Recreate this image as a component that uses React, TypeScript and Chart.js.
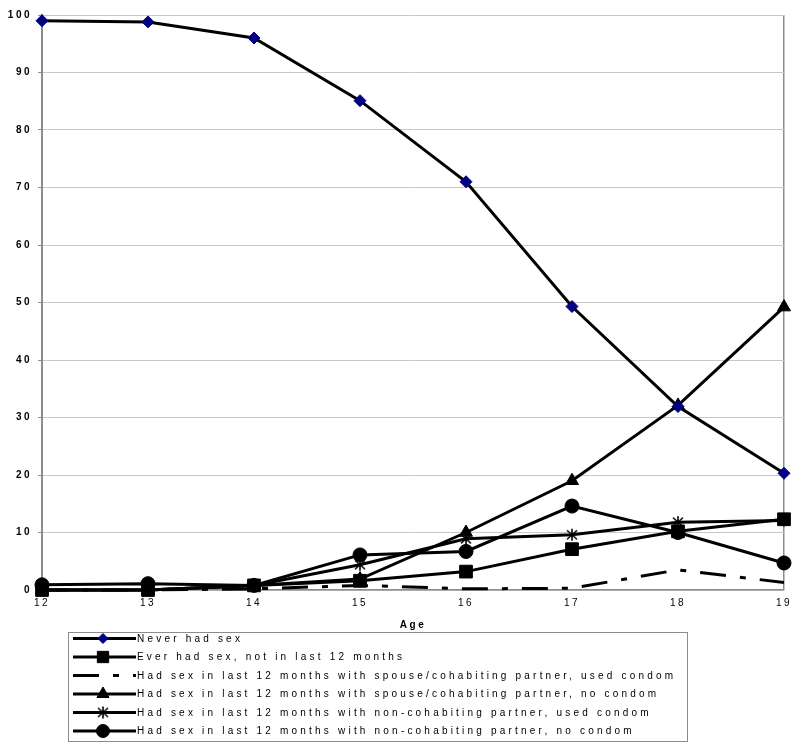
import React, { useEffect, useRef } from 'react';
import { Chart, registerables } from 'chart.js';

Chart.register(...registerables);

const ages = ['12', '13', '14', '15', '16', '17', '18', '19'];
const neverHadSex = [99.0, 98.8, 96.0, 85.1, 71.0, 49.3, 31.9, 20.3];
const everHadSexNotLast12 = [0, 0, 0.8, 1.6, 3.2, 7.1, 10.2, 12.3];
const spouseUsedCondom = [0, 0, 0.2, 0.8, 0.2, 0.3, 3.5, 1.3];
const spouseNoCondom = [0, 0, 0.8, 1.9, 10.0, 19.0, 32.1, 49.2];
const nonCohabUsedCondom = [0, 0, 0.8, 4.4, 8.9, 9.6, 11.8, 12.1];
const nonCohabNoCondom = [0.9, 1.1, 0.8, 6.1, 6.7, 14.6, 10.0, 4.7];
const yTickValues = [0, 10, 20, 30, 40, 50, 60, 70, 80, 90, 100];
const seriesLabels = [
  'Never had sex',
  'Ever had sex, not in last 12 months',
  'Had sex in last 12 months with spouse/cohabiting partner, used condom',
  'Had sex in last 12 months with spouse/cohabiting partner, no condom',
  'Had sex in last 12 months with non-cohabiting partner, used condom',
  'Had sex in last 12 months with non-cohabiting partner, no condom',
];
const xTitle = 'Age';

const FONT = '"Liberation Sans", Arial, sans-serif';
const DASH = [26, 14, 6, 14];

function makeStar(): HTMLCanvasElement {
  const c = document.createElement('canvas');
  c.width = 14;
  c.height = 14;
  const g = c.getContext('2d')!;
  g.strokeStyle = '#000';
  g.lineWidth = 1.6;
  g.beginPath();
  g.moveTo(2, 2.5); g.lineTo(12, 11.5);
  g.moveTo(12, 2.5); g.lineTo(2, 11.5);
  g.moveTo(7, 1); g.lineTo(7, 13);
  g.stroke();
  return c;
}

function drawMarker(ctx: CanvasRenderingContext2D, style: any, r: number, fill: string, x: number, y: number) {
  ctx.save();
  ctx.setLineDash([]);
  ctx.fillStyle = fill;
  ctx.strokeStyle = fill;
  ctx.lineWidth = 1;
  if (style instanceof HTMLCanvasElement) {
    ctx.drawImage(style, x - style.width / 2, y - style.height / 2);
    ctx.restore();
    return;
  }
  ctx.beginPath();
  if (style === 'rectRot') {
    ctx.moveTo(x - r, y); ctx.lineTo(x, y - r); ctx.lineTo(x + r, y); ctx.lineTo(x, y + r);
    ctx.closePath();
  } else if (style === 'rect') {
    const s = Math.SQRT1_2 * r;
    ctx.rect(x - s, y - s, 2 * s, 2 * s);
  } else if (style === 'triangle') {
    for (let k = 0; k < 3; k++) {
      const a = (k * 2 * Math.PI) / 3;
      const px = x + Math.sin(a) * r;
      const py = y - Math.cos(a) * r;
      if (k === 0) ctx.moveTo(px, py); else ctx.lineTo(px, py);
    }
    ctx.closePath();
  } else if (style === 'circle') {
    ctx.arc(x, y, r, 0, Math.PI * 2);
  }
  ctx.fill();
  ctx.stroke();
  ctx.restore();
}

const SPACING = '2.5px';
const spacingPlugin = {
  id: 'letterSpacing',
  beforeUpdate(chart: any) { chart.ctx.letterSpacing = SPACING; },
  beforeLayout(chart: any) { chart.ctx.letterSpacing = SPACING; },
  beforeDraw(chart: any) { chart.ctx.letterSpacing = SPACING; },
};

const legendPlugin = {
  id: 'boxLegend',
  afterDraw(chart: any) {
    const ctx: CanvasRenderingContext2D = chart.ctx;
    ctx.save();
    ctx.strokeStyle = '#8c8c8c';
    ctx.lineWidth = 1;
    ctx.setLineDash([]);
    ctx.strokeRect(68.5, 632.5, 619, 109);
    chart.data.datasets.forEach((ds: any, i: number) => {
      const y = 638.5 + i * 18.5;
      ctx.save();
      ctx.strokeStyle = '#000';
      ctx.lineWidth = 3;
      ctx.setLineDash(ds.borderDash || []);
      ctx.beginPath();
      ctx.moveTo(73, y);
      ctx.lineTo(136, y);
      ctx.stroke();
      ctx.restore();
      if (ds.pointRadius > 0) {
        drawMarker(ctx, ds.pointStyle, ds.legendRadius, ds.pointBackgroundColor, 103, y);
      }
      ctx.save();
      (ctx as any).letterSpacing = '3.2px';
      ctx.font = `10px ${FONT}`;
      ctx.fillStyle = '#000';
      ctx.textBaseline = 'middle';
      ctx.textAlign = 'left';
      ctx.fillText(ds.label, 137, y + 0.5);
      ctx.restore();
    });
    ctx.restore();
  },
};

export default function App() {
  const ref = useRef<HTMLCanvasElement>(null);
  useEffect(() => {
    if (!ref.current) return;
    const star = makeStar();
    const base = {
      borderColor: '#000',
      borderWidth: 3,
      tension: 0,
      clip: false as any,
      fill: false,
      pointBorderWidth: 1,
    };
    const chart = new Chart(ref.current, {
      type: 'line',
      data: {
        labels: ages,
        datasets: [
          { ...base, label: seriesLabels[0], data: neverHadSex, pointStyle: 'rectRot', pointRadius: 6, legendRadius: 5, pointBackgroundColor: '#000080', pointBorderColor: '#000080' },
          { ...base, label: seriesLabels[1], data: everHadSexNotLast12, pointStyle: 'rect', pointRadius: 9, legendRadius: 8, pointBackgroundColor: '#000', pointBorderColor: '#000' },
          { ...base, label: seriesLabels[2], data: spouseUsedCondom, borderDash: DASH, pointRadius: 0, legendRadius: 0, pointBackgroundColor: '#000' },
          { ...base, label: seriesLabels[3], data: spouseNoCondom, pointStyle: 'triangle', pointRadius: 7.5, legendRadius: 7, pointBackgroundColor: '#000', pointBorderColor: '#000' },
          { ...base, label: seriesLabels[4], data: nonCohabUsedCondom, pointStyle: star as any, pointRadius: 7, legendRadius: 7, pointBackgroundColor: '#000', pointBorderColor: '#000' },
          { ...base, label: seriesLabels[5], data: nonCohabNoCondom, pointStyle: 'circle', pointRadius: 7, legendRadius: 6.5, pointBackgroundColor: '#000', pointBorderColor: '#000' },
        ] as any,
      },
      options: {
        animation: false,
        responsive: false,
        events: [],
        layout: { padding: { left: 0, right: 16, top: 15, bottom: 117 } },
        plugins: {
          legend: { display: false },
          tooltip: { enabled: false },
          title: { display: false },
        },
        scales: {
          x: {
            type: 'category',
            offset: false,
            afterFit: (s: any) => { s.height = 42; },
            grid: {
              display: true,
              drawTicks: false,
              color: (c: any) => (c.index === ages.length - 1 ? '#8c8c8c' : 'rgba(0,0,0,0)'),
              lineWidth: 1.5,
            },
            border: { display: true, color: '#8c8c8c', width: 1.5 },
            ticks: {
              color: '#000',
              font: { family: FONT, size: 10 },
              padding: 7,
              maxRotation: 0,
              autoSkip: false,
            },
            title: {
              display: true,
              text: xTitle,
              color: '#000',
              font: { family: FONT, size: 10, weight: 'bold' },
              padding: { top: 0, bottom: 1 },
            },
          },
          y: {
            min: 0,
            max: 100,
            afterFit: (s: any) => { s.width = 42; },
            afterBuildTicks: (s: any) => { s.ticks = yTickValues.map((v) => ({ value: v })); },
            grid: {
              color: '#c8c8c8',
              lineWidth: 1,
              tickLength: 4,
              tickColor: '#8c8c8c',
            },
            border: { display: true, color: '#8c8c8c', width: 2 },
            ticks: {
              color: '#000',
              font: { family: FONT, size: 10, weight: 'bold' },
              padding: 6,
            },
          },
        },
      } as any,
      plugins: [spacingPlugin, legendPlugin],
    });
    return () => chart.destroy();
  }, []);
  return (
    <div style={{ position: 'absolute', left: 0, top: 0, width: 800, height: 749, background: '#fff' }}>
      <canvas ref={ref} width={800} height={749} style={{ display: 'block' }} />
    </div>
  );
}
